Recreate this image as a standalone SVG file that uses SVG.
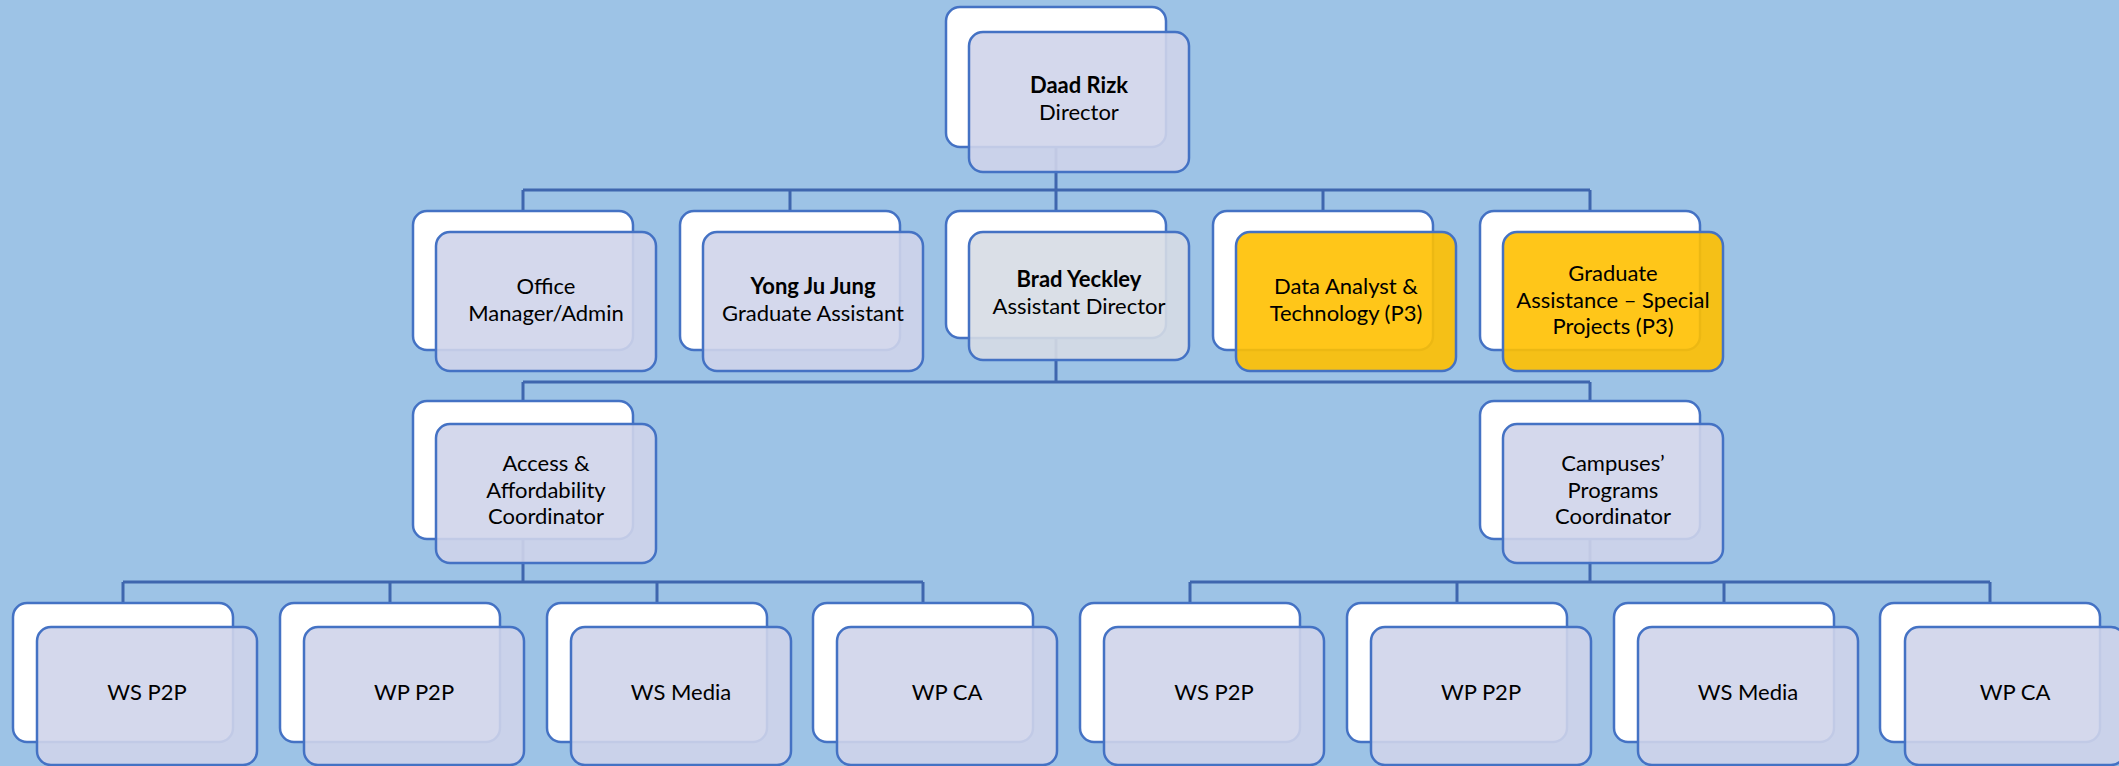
<svg xmlns="http://www.w3.org/2000/svg" width="2119" height="766" viewBox="0 0 2119 766">
<style>
.bk{fill:#ffffff;stroke:#4472C4;stroke-width:2.5}
.fr{fill:#CFD4EA;fill-opacity:0.9;stroke:#4472C4;stroke-width:2.5}
.fg{fill:#D6DBE4;fill-opacity:0.9;stroke:#4472C4;stroke-width:2.5}
.fy{fill:#FFC000;fill-opacity:0.9;stroke:#4472C4;stroke-width:2.5}
.ln{fill:none;stroke:#3F66AE;stroke-width:3}
text{font-family:Lato,"Open Sans","Liberation Sans",sans-serif;font-size:22px;fill:#000;text-anchor:middle}
.b{font-weight:700}
</style>
<rect x="0" y="0" width="2119" height="766" fill="#9DC3E6"/>
<g id="connectors" class="ln">
<path d="M1056 147V190M523 190H1590M523 190V211M790 190V211M1056 190V211M1323 190V211M1590 190V211"/>
<path d="M1056 338V382M523 382H1590M523 382V401M1590 382V401"/>
<path d="M523 539V582M1590 539V582M123 582H923M1190 582H1990"/>
<path d="M123 582V603M390 582V603M657 582V603M923 582V603M1190 582V603M1457 582V603M1724 582V603M1990 582V603"/>
</g>
<g id="director">
<rect class="bk" x="946" y="7" width="220" height="140" rx="14"/>
<rect class="fr" x="969" y="32" width="220" height="140" rx="14"/>
<text x="1079" y="93" class="b">Daad Rizk</text>
<text x="1079" y="120">Director</text>
</g>
<g id="office">
<rect class="bk" x="413" y="211" width="220" height="139" rx="14"/>
<rect class="fr" x="436" y="232" width="220" height="139" rx="14"/>
<text x="546" y="294">Office</text>
<text x="546" y="321">Manager/Admin</text>
</g>
<g id="yong">
<rect class="bk" x="680" y="211" width="220" height="139" rx="14"/>
<rect class="fr" x="703" y="232" width="220" height="139" rx="14"/>
<text x="813" y="294" class="b">Yong Ju Jung</text>
<text x="813" y="321">Graduate Assistant</text>
</g>
<g id="brad">
<rect class="bk" x="946" y="211" width="220" height="127" rx="14"/>
<rect class="fg" x="969" y="232" width="220" height="128" rx="14"/>
<text x="1079" y="287" class="b">Brad Yeckley</text>
<text x="1079" y="314">Assistant Director</text>
</g>
<g id="data">
<rect class="bk" x="1213" y="211" width="220" height="139" rx="14"/>
<rect class="fy" x="1236" y="232" width="220" height="139" rx="14"/>
<text x="1346" y="294">Data Analyst &amp;</text>
<text x="1346" y="321">Technology (P3)</text>
</g>
<g id="grad">
<rect class="bk" x="1480" y="211" width="220" height="139" rx="14"/>
<rect class="fy" x="1503" y="232" width="220" height="139" rx="14"/>
<text x="1613" y="281">Graduate</text>
<text x="1613" y="307.5">Assistance – Special</text>
<text x="1613" y="334">Projects (P3)</text>
</g>
<g id="access">
<rect class="bk" x="413" y="401" width="220" height="138" rx="14"/>
<rect class="fr" x="436" y="424" width="220" height="139" rx="14"/>
<text x="546" y="471">Access &amp;</text>
<text x="546" y="498">Affordability</text>
<text x="546" y="524">Coordinator</text>
</g>
<g id="campuses">
<rect class="bk" x="1480" y="401" width="220" height="138" rx="14"/>
<rect class="fr" x="1503" y="424" width="220" height="139" rx="14"/>
<text x="1613" y="471">Campuses’</text>
<text x="1613" y="498">Programs</text>
<text x="1613" y="524">Coordinator</text>
</g>
<g id="ws-p2p-1">
<rect class="bk" x="13" y="603" width="220" height="139" rx="14"/>
<rect class="fr" x="37" y="627" width="220" height="138" rx="14"/>
<text x="147" y="700">WS P2P</text>
</g>
<g id="wp-p2p-1">
<rect class="bk" x="280" y="603" width="220" height="139" rx="14"/>
<rect class="fr" x="304" y="627" width="220" height="138" rx="14"/>
<text x="414" y="700">WP P2P</text>
</g>
<g id="ws-media-1">
<rect class="bk" x="547" y="603" width="220" height="139" rx="14"/>
<rect class="fr" x="571" y="627" width="220" height="138" rx="14"/>
<text x="681" y="700">WS Media</text>
</g>
<g id="wp-ca-1">
<rect class="bk" x="813" y="603" width="220" height="139" rx="14"/>
<rect class="fr" x="837" y="627" width="220" height="138" rx="14"/>
<text x="947" y="700">WP CA</text>
</g>
<g id="ws-p2p-2">
<rect class="bk" x="1080" y="603" width="220" height="139" rx="14"/>
<rect class="fr" x="1104" y="627" width="220" height="138" rx="14"/>
<text x="1214" y="700">WS P2P</text>
</g>
<g id="wp-p2p-2">
<rect class="bk" x="1347" y="603" width="220" height="139" rx="14"/>
<rect class="fr" x="1371" y="627" width="220" height="138" rx="14"/>
<text x="1481" y="700">WP P2P</text>
</g>
<g id="ws-media-2">
<rect class="bk" x="1614" y="603" width="220" height="139" rx="14"/>
<rect class="fr" x="1638" y="627" width="220" height="138" rx="14"/>
<text x="1748" y="700">WS Media</text>
</g>
<g id="wp-ca-2">
<rect class="bk" x="1880" y="603" width="220" height="139" rx="14"/>
<rect class="fr" x="1905" y="627" width="220" height="138" rx="14"/>
<text x="2015" y="700">WP CA</text>
</g>
</svg>
